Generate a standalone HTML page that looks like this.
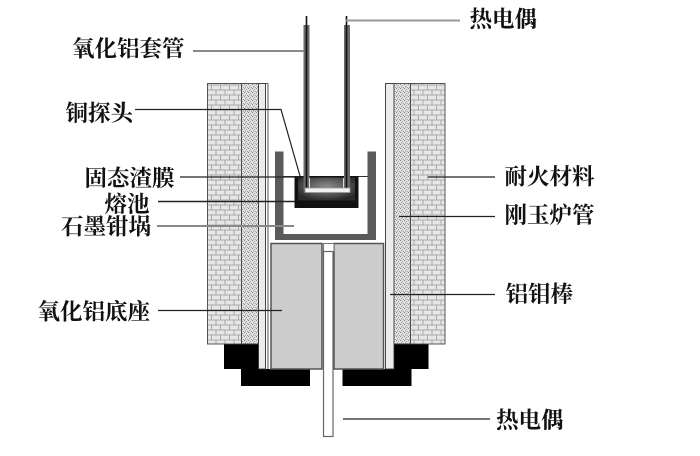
<!DOCTYPE html>
<html><head><meta charset="utf-8">
<style>
html,body{margin:0;padding:0;background:#fff;}
svg{display:block;}
text{font-family:"Liberation Serif","Noto Serif CJK SC","Noto Sans CJK SC",serif;font-size:22.5px;font-weight:bold;fill:#111;}
</style></head>
<body>
<svg width="700" height="456" viewBox="0 0 700 456" xmlns="http://www.w3.org/2000/svg">
<defs>
  <pattern id="brick" width="9" height="10" patternUnits="userSpaceOnUse">
    <rect width="9" height="10" fill="#a9a9a9"/>
    <rect x="0.5" y="0.5" width="8" height="4" fill="#e6e6e6"/>
    <rect x="-4" y="5.5" width="8" height="4" fill="#e6e6e6"/>
    <rect x="5" y="5.5" width="8" height="4" fill="#e6e6e6"/>
  </pattern>
  <pattern id="speck" width="4" height="4" patternUnits="userSpaceOnUse">
    <rect width="4" height="4" fill="#e2e2e2"/>
    <rect x="0" y="0" width="1" height="1" fill="#8a8a8a"/>
    <rect x="2" y="1" width="1" height="1" fill="#9a9a9a"/>
    <rect x="1" y="2.5" width="1" height="1" fill="#8a8a8a"/>
    <rect x="3" y="3" width="1" height="1" fill="#a0a0a0"/>
  </pattern>
  <radialGradient id="melt" cx="50%" cy="40%" r="60%">
    <stop offset="0" stop-color="#8c8c8c"/>
    <stop offset="0.6" stop-color="#555"/>
    <stop offset="1" stop-color="#2a2a2a"/>
  </radialGradient>
</defs>

<!-- black base -->
<polygon points="224,344 259,344 259,369 310,369 310,386 241,386 241,369 224,369" fill="#000"/>
<polygon points="393.5,344 428.5,344 428.5,369 411.5,369 411.5,386 342.5,386 342.5,369 393.5,369" fill="#000"/>

<!-- left wall -->
<rect x="207.5" y="83.5" width="34" height="260.5" fill="url(#brick)" stroke="#444" stroke-width="0.9"/>
<rect x="241.5" y="83.5" width="17" height="260.5" fill="url(#speck)" stroke="#444" stroke-width="0.9"/>
<rect x="258.5" y="83.5" width="7" height="285.5" fill="#ececec" stroke="#333" stroke-width="0.9"/>
<line x1="268" y1="83.5" x2="268" y2="369" stroke="#555" stroke-width="1"/>
<line x1="258.5" y1="83.5" x2="268" y2="83.5" stroke="#444" stroke-width="0.9"/>

<!-- right wall -->
<rect x="385.5" y="83.5" width="8.5" height="285.5" fill="#ececec" stroke="#333" stroke-width="0.9"/>
<rect x="394" y="83.5" width="16.5" height="260.5" fill="url(#speck)" stroke="#444" stroke-width="0.9"/>
<rect x="410.5" y="83.5" width="34.5" height="260.5" fill="url(#brick)" stroke="#444" stroke-width="0.9"/>

<!-- alumina base blocks -->
<rect x="271" y="243.5" width="51" height="125.5" fill="#cdcdcd" stroke="#555" stroke-width="1.5"/>
<rect x="334" y="243.5" width="49.5" height="125.5" fill="#cdcdcd" stroke="#555" stroke-width="1.5"/>
<rect x="323.5" y="243.5" width="10.5" height="8" fill="#fff" stroke="#777" stroke-width="1"/>

<!-- bottom thermocouple tube -->
<rect x="323.5" y="251.5" width="9.5" height="185" fill="#fff" stroke="#666" stroke-width="1.2"/>

<!-- graphite crucible -->
<path d="M275,151.5 H283.5 V234 H367.5 V151.5 H376 V240 H275 Z" fill="#5a5a5a"/>

<!-- slag surface line -->
<line x1="283" y1="176.5" x2="367.5" y2="176.5" stroke="#333" stroke-width="1"/>

<!-- melt pool / slag film -->
<rect x="294.5" y="176" width="64" height="32" fill="#111"/>
<rect x="298" y="177.5" width="57" height="23" fill="url(#melt)"/>

<!-- top thermocouple (alumina tube) -->
<rect x="303.5" y="25" width="6" height="165" fill="#6a6a6a"/>
<rect x="344" y="25" width="6" height="165" fill="#6a6a6a"/>
<line x1="306.5" y1="16" x2="306.5" y2="190" stroke="#111" stroke-width="1.6"/>
<line x1="346.5" y1="16" x2="346.5" y2="190" stroke="#111" stroke-width="1.6"/>
<line x1="309.5" y1="178" x2="309.5" y2="189" stroke="#ddd" stroke-width="1"/>
<line x1="343.5" y1="178" x2="343.5" y2="189" stroke="#ddd" stroke-width="1"/>
<!-- copper probe -->
<rect x="305" y="188" width="45" height="4.5" fill="#f2f2f2" stroke="#999" stroke-width="0.8"/>

<!-- leader lines -->
<line x1="193" y1="51" x2="304" y2="51" stroke="#8a8a8a" stroke-width="2"/>
<line x1="346" y1="20.5" x2="460" y2="20.5" stroke="#999" stroke-width="2"/>
<polyline points="135,109.5 281,109.5 300,176" fill="none" stroke="#222" stroke-width="1.2"/>
<line x1="180" y1="177" x2="300" y2="177" stroke="#222" stroke-width="1.2"/>
<line x1="158" y1="201.5" x2="295" y2="201.5" stroke="#222" stroke-width="1.5"/>
<line x1="157" y1="226" x2="294" y2="226" stroke="#888" stroke-width="2"/>
<line x1="158" y1="310.5" x2="282" y2="310.5" stroke="#222" stroke-width="1.2"/>
<line x1="428" y1="177" x2="495" y2="177" stroke="#222" stroke-width="1.2"/>
<line x1="399" y1="216.5" x2="495" y2="216.5" stroke="#222" stroke-width="1.2"/>
<line x1="390" y1="294.5" x2="495" y2="294.5" stroke="#222" stroke-width="1.2"/>
<line x1="343" y1="419" x2="490" y2="419" stroke="#222" stroke-width="1.2"/>

<!-- labels -->
<text x="72" y="56.5">氧化铝套管</text>
<text x="65.5" y="121">铜探头</text>
<text x="84.5" y="186">固态渣膜</text>
<text x="104.5" y="212">熔池</text>
<text x="61" y="234.5">石墨钳埚</text>
<text x="37.5" y="319.5">氧化铝底座</text>
<text x="469.5" y="27">热电偶</text>
<text x="504.5" y="184.5">耐火材料</text>
<text x="504.5" y="223">刚玉炉管</text>
<text x="505.5" y="302">铝钼棒</text>
<text x="496" y="428">热电偶</text>
</svg>
</body></html>
